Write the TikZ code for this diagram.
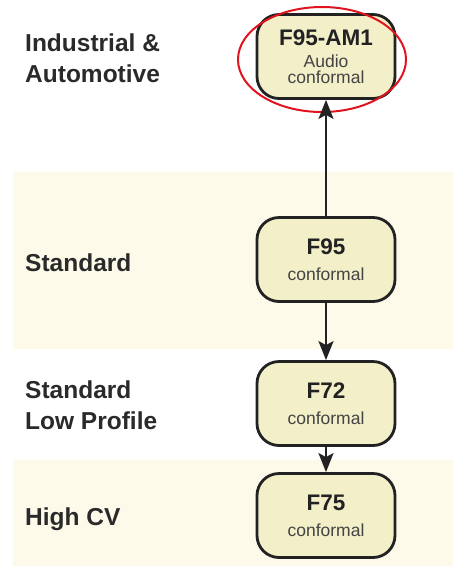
\documentclass[tikz,border=0pt]{standalone}
\usepackage{fontspec}
\setmainfont{Liberation Sans}
\usetikzlibrary{arrows.meta}
\definecolor{bandfill}{HTML}{FDFAE9}
\definecolor{boxfill}{HTML}{F2EFC9}
\definecolor{boxline}{HTML}{222222}
\definecolor{labeltext}{HTML}{2A2A2A}
\definecolor{subtext}{HTML}{444444}
\definecolor{ringred}{HTML}{E0141E}
\newcommand{\ttl}[1]{{\fontsize{22.5}{22}\selectfont\bfseries\color{boxline}#1}}
\tikzset{
  band/.style={fill=bandfill, draw=none},
  levellabel/.style={font=\fontsize{24.5}{31}\selectfont\bfseries, text=labeltext, align=left, inner sep=0pt},
  partbox/.style={draw=boxline, line width=2.8pt, fill=boxfill, rounded corners=22pt,
    minimum width=138pt, minimum height=84pt, inner sep=0pt, align=center,
    font=\fontsize{17.5}{16}\selectfont, text=subtext},
  link/.style={draw=boxline, line width=2.2pt, -{Stealth[length=19pt,width=15pt,inset=4pt]}},
  ring/.style={draw=ringred, line width=2pt}
}
\begin{document}
\begin{tikzpicture}[x=1pt,y=-1pt]
\useasboundingbox (0,0) rectangle (455,566);
\fill[band] (13,172) rectangle (453,349);
\fill[band] (13,460) rectangle (453,566);

\node[levellabel, anchor=west] (lab1) at (25,58) {Industrial \&\\Automotive};
\node[levellabel, anchor=base west] (lab2) at (25,271) {Standard};
\node[levellabel, anchor=west] (lab3) at (25,405.5) {Standard\\Low Profile};
\node[levellabel, anchor=base west] (lab4) at (25,525) {High CV};

\node[partbox] (am1) at (326,56.5) {\ttl{F95-AM1}\\[6pt]Audio\\conformal};
\node[partbox] (f95) at (326,259.5) {\ttl{F95}\\[10pt]conformal};
\node[partbox] (f72) at (326,403.5) {\ttl{F72}\\[10pt]conformal};
\node[partbox] (f75) at (326,515.5) {\ttl{F75}\\[10pt]conformal};

\draw[ring] (322,59.5) ellipse [x radius=84, y radius=52.5];

\draw[link] (f95) -- (am1);
\draw[link] (f95) -- (f72);
\draw[link] (f72) -- (f75);
\end{tikzpicture}
\end{document}
